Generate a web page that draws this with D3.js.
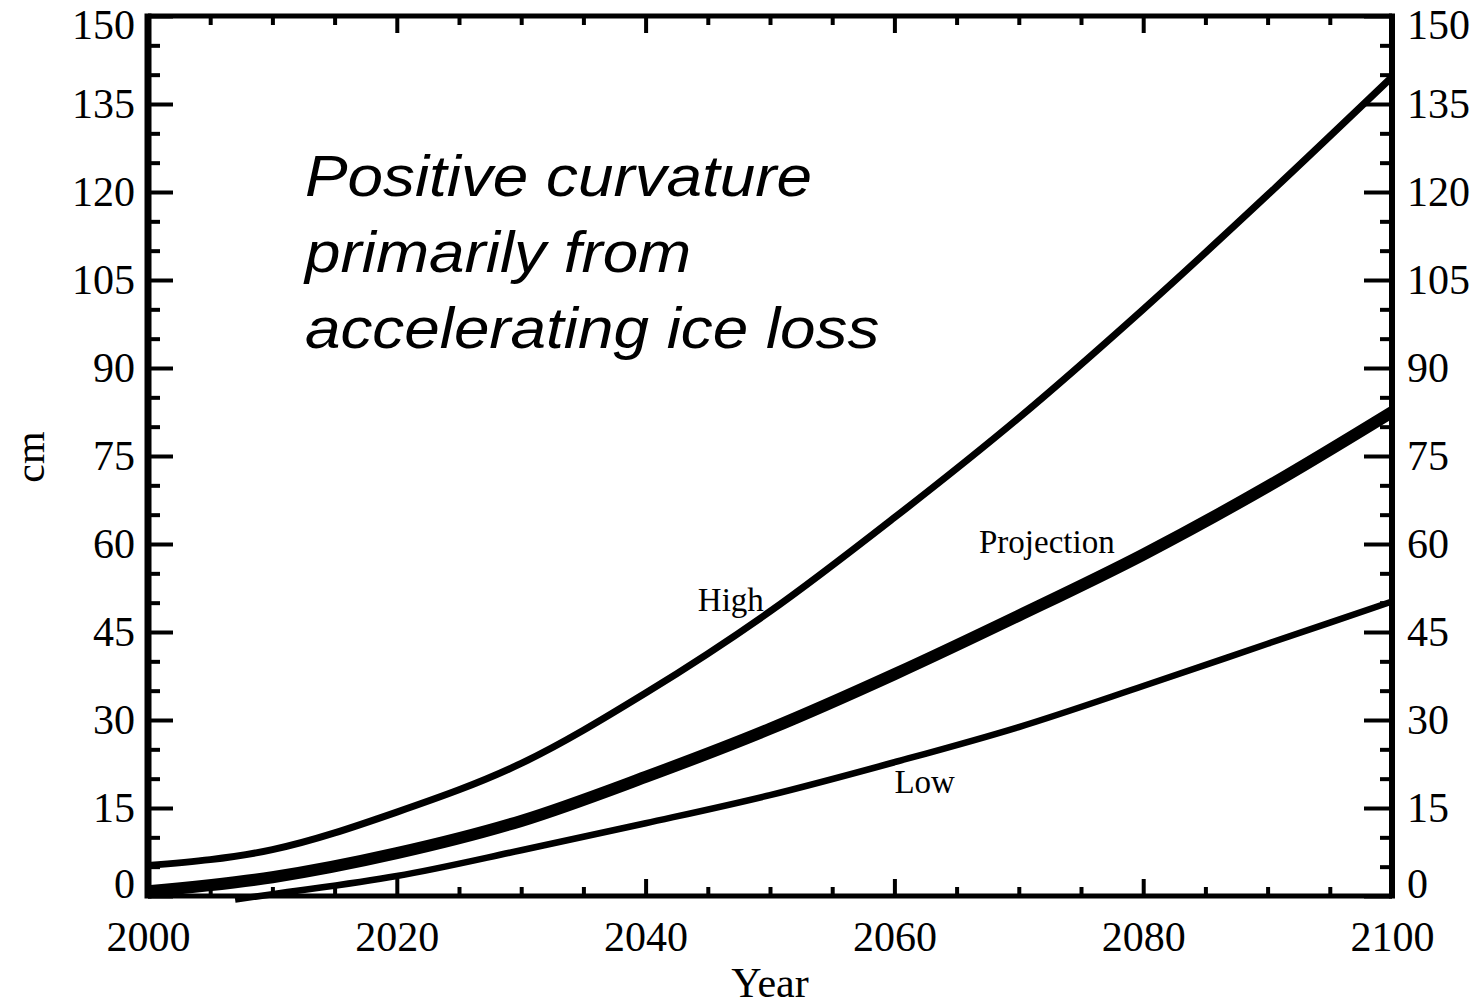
<!DOCTYPE html>
<html>
<head>
<meta charset="utf-8">
<script src="https://cdn.jsdelivr.net/npm/d3@7"></script>
<style>
  html, body { margin: 0; padding: 0; background: #fff; }
  svg { display: block; }
</style>
</head>
<body>
<svg id="chart" width="1476" height="1005"></svg>
<script>
// ---- data ----
const years = [2000, 2010, 2020, 2030, 2040, 2050, 2060, 2070, 2080, 2090, 2100];
const highValues = [5.2, 7.9, 14.3, 22.6, 34.6, 48.5, 64.5, 81.5, 100.0, 119.5, 139.6];
const projectionValues = [0.8, 3.2, 7.3, 12.8, 20.3, 28.5, 37.8, 47.8, 58.2, 69.8, 82.5];
const lowYears = [2007, 2010, 2020, 2030, 2040, 2050, 2060, 2070, 2080, 2090, 2100];
const lowValues = [-0.6, 0.3, 3.4, 7.8, 12.4, 17.2, 22.8, 28.8, 35.8, 43.0, 50.2];
const xMajorTicks = [2000, 2020, 2040, 2060, 2080, 2100];
const yMajorTicks = [0, 15, 30, 45, 60, 75, 90, 105, 120, 135, 150];
const seriesLabels = [
  { text: "High", year: 2044.2, value: 48.5 },
  { text: "Projection", year: 2066.8, value: 58.5 },
  { text: "Low", year: 2060.0, value: 17.5 }
];
const annotationLines = ["Positive curvature", "primarily from", "accelerating ice loss"];

// ---- layout ----
const svg = d3.select("#chart");
const x = d3.scaleLinear().domain([2000, 2100]).range([148, 1392]);
const y = d3.scaleLinear().domain([0, 150]).range([896, 16]);
const serif = "'Liberation Serif', 'Times New Roman', serif";

const xMinor = d3.range(2000, 2101, 5).filter(v => !xMajorTicks.includes(v));
const yMinor = d3.range(0, 151, 5).filter(v => !yMajorTicks.includes(v));

function styleAxis(g) {
  g.select(".domain").remove();
  g.selectAll(".tick line").attr("stroke", "#000").attr("stroke-width", 4);
  g.selectAll("text").attr("font-family", serif).attr("font-size", 42).attr("fill", "#000");
}

// left axis
const gl = svg.append("g").attr("transform", `translate(${x.range()[0]},0)`)
  .call(d3.axisLeft(y).tickValues(yMajorTicks).tickSize(-25).tickPadding(13).tickFormat(d3.format("d")))
  .call(styleAxis);
svg.append("g").attr("transform", `translate(${x.range()[0]},0)`)
  .call(d3.axisLeft(y).tickValues(yMinor).tickSize(-12).tickFormat(""))
  .call(styleAxis);
// right axis
const gr = svg.append("g").attr("transform", `translate(${x.range()[1]},0)`)
  .call(d3.axisRight(y).tickValues(yMajorTicks).tickSize(-28).tickPadding(15).tickFormat(d3.format("d")))
  .call(styleAxis);
svg.append("g").attr("transform", `translate(${x.range()[1]},0)`)
  .call(d3.axisRight(y).tickValues(yMinor).tickSize(-12).tickFormat(""))
  .call(styleAxis);
// shift end labels inward as in the reference
[gl, gr].forEach(g => {
  g.selectAll(".tick").filter(d => d === 0).select("text").attr("dy", "0.04em");
  g.selectAll(".tick").filter(d => d === 150).select("text").attr("dy", "0.54em");
});
// bottom axis
svg.append("g").attr("transform", `translate(0,${y.range()[0]})`)
  .call(d3.axisBottom(x).tickValues(xMajorTicks).tickSize(-17).tickPadding(25).tickFormat(d3.format("d")))
  .call(styleAxis);
svg.append("g").attr("transform", `translate(0,${y.range()[0]})`)
  .call(d3.axisBottom(x).tickValues(xMinor).tickSize(-9).tickFormat(""))
  .call(styleAxis);
// top axis
svg.append("g").attr("transform", `translate(0,${y.range()[1]})`)
  .call(d3.axisTop(x).tickValues(xMajorTicks).tickSize(-17).tickFormat(""))
  .call(styleAxis);
svg.append("g").attr("transform", `translate(0,${y.range()[1]})`)
  .call(d3.axisTop(x).tickValues(xMinor).tickSize(-9).tickFormat(""))
  .call(styleAxis);

// frame
const [x0, x1] = x.range(), [y0, y1] = y.range();
svg.append("line").attr("x1", x0).attr("x2", x0).attr("y1", y1 - 2.5).attr("y2", y0 + 2.5).attr("stroke", "#000").attr("stroke-width", 7);
svg.append("line").attr("x1", x1).attr("x2", x1).attr("y1", y1 - 2.5).attr("y2", y0 + 2.5).attr("stroke", "#000").attr("stroke-width", 6);
svg.append("line").attr("x1", x0).attr("x2", x1).attr("y1", y1).attr("y2", y1).attr("stroke", "#000").attr("stroke-width", 5);
svg.append("line").attr("x1", x0).attr("x2", x1).attr("y1", y0).attr("y2", y0).attr("stroke", "#000").attr("stroke-width", 5);

// lines
const line = d3.line().x(d => x(d[0])).y(d => y(d[1])).curve(d3.curveMonotoneX);
svg.append("path").datum(d3.zip(years, highValues)).attr("d", line)
  .attr("fill", "none").attr("stroke", "#000").attr("stroke-width", 7).attr("stroke-linejoin", "round");
svg.append("path").datum(d3.zip(years, projectionValues)).attr("d", line)
  .attr("fill", "none").attr("stroke", "#000").attr("stroke-width", 12).attr("stroke-linejoin", "round");
svg.append("path").datum(d3.zip(lowYears, lowValues)).attr("d", line)
  .attr("fill", "none").attr("stroke", "#000").attr("stroke-width", 6.5).attr("stroke-linejoin", "round");

// series labels
svg.append("g").selectAll("text").data(seriesLabels).join("text")
  .attr("x", d => x(d.year)).attr("y", d => y(d.value))
  .attr("font-family", serif).attr("font-size", 33).attr("fill", "#000")
  .text(d => d.text);

// axis titles
svg.append("text").attr("x", (x0 + x1) / 2).attr("y", 997).attr("text-anchor", "middle")
  .attr("font-family", serif).attr("font-size", 42).text("Year");
svg.append("text").attr("transform", "translate(44,457) rotate(-90)").attr("text-anchor", "middle")
  .attr("font-family", serif).attr("font-size", 42).text("cm");

// annotation
const ann = svg.append("g").attr("transform", "translate(305,0) scale(1.1,1)");
ann.selectAll("text").data(annotationLines).join("text")
  .attr("x", 0).attr("y", (d, i) => 196 + i * 76)
  .attr("font-family", "'Liberation Sans', Arial, sans-serif").attr("font-style", "italic")
  .attr("font-size", 58).attr("fill", "#000").text(d => d);
</script>
</body>
</html>
